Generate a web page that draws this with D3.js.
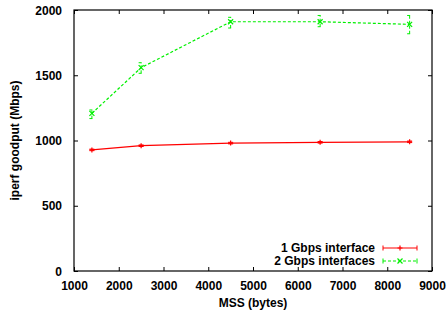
<!DOCTYPE html>
<html>
<head>
<meta charset="utf-8">
<script src="https://cdn.jsdelivr.net/npm/d3@7"></script>
<style>
  body { margin: 0; background: #fff; }
  text { font-family: "Liberation Sans", Arial, sans-serif; font-weight: bold; }
</style>
</head>
<body>
<div id="chart"></div>
<script>
const mss = [1400, 2500, 4500, 6500, 8500];
const oneGbps = [928, 960, 980, 986, 990];
const oneGbpsErr = [6, 6, 6, 6, 6];
const twoGbps = [1208, 1558, 1910, 1910, 1890];
const twoGbpsLo = [1168, 1515, 1862, 1872, 1818];
const twoGbpsHi = [1234, 1596, 1944, 1958, 1958];
const xTicks = [1000, 2000, 3000, 4000, 5000, 6000, 7000, 8000, 9000];
const yTicks = [0, 500, 1000, 1500, 2000];

const width = 447, height = 314;
const margin = {top: 10, right: 15, bottom: 43, left: 74};

const svg = d3.select('#chart').append('svg')
    .attr('width', width)
    .attr('height', height);

const x = d3.scaleLinear().domain([1000, 9000]).range([margin.left, width - margin.right]);
const y = d3.scaleLinear().domain([0, 2000]).range([height - margin.bottom, margin.top]);

const series = [
  {name: '1 Gbps interface', color: '#ff0000', dash: null, marker: 'plus',
   vals: oneGbps, lo: oneGbps.map((v, i) => v - oneGbpsErr[i]), hi: oneGbps.map((v, i) => v + oneGbpsErr[i])},
  {name: '2 Gbps interfaces', color: '#00f000', dash: '3,2', marker: 'cross',
   vals: twoGbps, lo: twoGbpsLo, hi: twoGbpsHi}
];

// frame
svg.append('rect')
    .attr('x', x(1000)).attr('y', y(2000))
    .attr('width', x(9000) - x(1000)).attr('height', y(0) - y(2000))
    .attr('fill', 'none').attr('stroke', '#000').attr('stroke-width', 1.2);

// axes (ticks inward, mirrored)
const tickLen = 4;
svg.append('g').attr('transform', `translate(0,${y(0)})`)
    .call(d3.axisBottom(x).tickValues(xTicks).tickSize(-tickLen).tickPadding(6 + tickLen).tickFormat(d3.format('d')));
svg.append('g').attr('transform', `translate(0,${y(2000)})`)
    .call(d3.axisTop(x).tickValues(xTicks).tickSize(-tickLen).tickFormat(''));
const yAxis = svg.append('g').attr('transform', `translate(${x(1000)},0)`)
    .call(d3.axisLeft(y).tickValues(yTicks).tickSize(-tickLen).tickPadding(8 + tickLen).tickFormat(d3.format('d')));
svg.append('g').attr('transform', `translate(${x(9000)},0)`)
    .call(d3.axisRight(y).tickValues(yTicks).tickSize(-tickLen).tickFormat(''));

svg.selectAll('.domain').remove();
svg.selectAll('.tick line').attr('stroke', '#000').attr('stroke-width', 1);
svg.selectAll('.tick text').attr('font-size', 12).attr('fill', '#000')
    .style('font-family', '"Liberation Sans", Arial, sans-serif').style('font-weight', 'bold');
yAxis.selectAll('.tick text').attr('dy', '0.35em');

// axis labels
svg.append('text')
    .attr('x', (x(1000) + x(9000)) / 2).attr('y', 307)
    .attr('text-anchor', 'middle').attr('font-size', 12)
    .text('MSS (bytes)');
svg.append('text')
    .attr('transform', `translate(19,${(y(0) + y(2000)) / 2}) rotate(-90)`)
    .attr('text-anchor', 'middle').attr('font-size', 12)
    .text('iperf goodput (Mbps)');

const line = d3.line().x(d => x(d[0])).y(d => y(d[1]));

function marker(g, type, cx, cy, color) {
  const s = 2.5;
  if (type === 'plus') {
    g.append('path').attr('d', `M${cx - s},${cy}H${cx + s}M${cx},${cy - s}V${cy + s}`)
        .attr('stroke', color).attr('stroke-width', 1.2);
  } else {
    g.append('path').attr('d', `M${cx - s},${cy - s}L${cx + s},${cy + s}M${cx - s},${cy + s}L${cx + s},${cy - s}`)
        .attr('stroke', color).attr('stroke-width', 1.2);
  }
}

function errbar(g, cx, y1, y2, color, dash) {
  const c = 2.5;
  g.append('path')
      .attr('d', `M${cx},${y1}V${y2}M${cx - c},${y1}H${cx + c}M${cx - c},${y2}H${cx + c}`)
      .attr('stroke', color).attr('stroke-width', 1).attr('fill', 'none')
      .attr('stroke-dasharray', dash);
}

series.forEach((s, si) => {
  const g = svg.append('g');
  const pts = mss.map((m, i) => [m, s.vals[i]]);
  g.append('path').datum(pts).attr('d', line)
      .attr('fill', 'none').attr('stroke', s.color).attr('stroke-width', 1.2)
      .attr('stroke-dasharray', s.dash);
  mss.forEach((m, i) => {
    errbar(g, x(m), y(s.lo[i]), y(s.hi[i]), s.color, s.dash);
    marker(g, s.marker, x(m), y(s.vals[i]), s.color);
  });

  // legend
  const ly = 248 + si * 13;
  const lx1 = 383, lx2 = 417;
  svg.append('text').attr('x', 375).attr('y', ly).attr('dy', '0.35em')
      .attr('text-anchor', 'end').attr('font-size', 12).text(s.name);
  svg.append('path').attr('d', `M${lx1},${ly}H${lx2}`)
      .attr('stroke', s.color).attr('stroke-width', 1.2).attr('stroke-dasharray', s.dash);
  svg.append('path').attr('d', `M${lx1},${ly - 2.5}V${ly + 2.5}M${lx2},${ly - 2.5}V${ly + 2.5}`)
      .attr('stroke', s.color).attr('stroke-width', 1);
  marker(svg, s.marker, (lx1 + lx2) / 2, ly, s.color);
});
</script>
</body>
</html>
